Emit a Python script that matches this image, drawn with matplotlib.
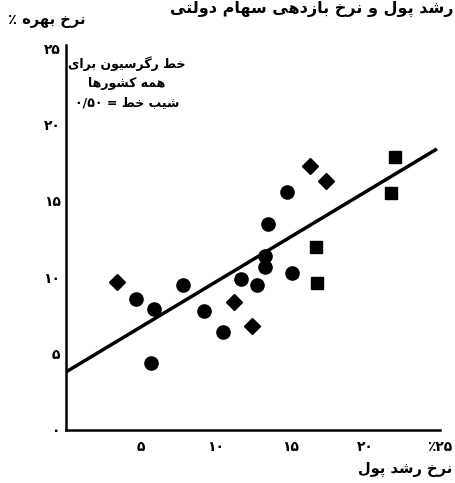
import re
import matplotlib
matplotlib.use("Agg")
import matplotlib.pyplot as plt

# ---------------- data ----------------
circle_x = [4.7, 5.9, 5.7, 7.8, 9.2, 10.5, 11.7, 12.8, 13.3, 13.3, 13.5, 14.8, 15.1]
circle_y = [8.6, 7.9, 4.4, 9.5, 7.8, 6.4, 9.9, 9.5, 10.7, 11.4, 13.5, 15.6, 10.3]
diamond_x = [3.4, 11.2, 12.4, 16.3, 17.4]
diamond_y = [9.7, 8.4, 6.8, 17.3, 16.3]
square_x = [16.7, 16.8, 21.7, 22.0]
square_y = [12.0, 9.6, 15.5, 17.9]
reg_x = [0, 24.8]
reg_y = [3.8, 18.4]

x_ticks = [5, 10, 15, 20, 25]
x_tick_labels = ["۵", "۱۰", "۱۵", "۲۰", "۲۵٪"]
y_ticks = [0, 5, 10, 15, 20, 25]
y_tick_labels = ["۰", "۵", "۱۰", "۱۵", "۲۰", "۲۵"]

title_text = "رشد پول و نرخ بازدهی سهام دولتی"
y_label = "نرخ بهره ٪"
x_label = "نرخ رشد پول"
note_lines = ["خط رگرسیون برای", "همه کشورها", "شیب خط = ۰/۵۰"]

# ------------- Arabic-script shaping (matplotlib has no bidi/shaping) -------------
FORMS = {
    'ا': ('\uFE8D', '\uFE8E', None, None),
    'ب': ('\uFE8F', '\uFE90', '\uFE91', '\uFE92'),
    'ت': ('\uFE95', '\uFE96', '\uFE97', '\uFE98'),
    'خ': ('\uFEA5', '\uFEA6', '\uFEA7', '\uFEA8'),
    'د': ('\uFEA9', '\uFEAA', None, None),
    'ر': ('\uFEAD', '\uFEAE', None, None),
    'ز': ('\uFEAF', '\uFEB0', None, None),
    'س': ('\uFEB1', '\uFEB2', '\uFEB3', '\uFEB4'),
    'ش': ('\uFEB5', '\uFEB6', '\uFEB7', '\uFEB8'),
    'ط': ('\uFEC1', '\uFEC2', '\uFEC3', '\uFEC4'),
    'ل': ('\uFEDD', '\uFEDE', '\uFEDF', '\uFEE0'),
    'م': ('\uFEE1', '\uFEE2', '\uFEE3', '\uFEE4'),
    'ن': ('\uFEE5', '\uFEE6', '\uFEE7', '\uFEE8'),
    'ه': ('\uFEE9', '\uFEEA', '\uFEEB', '\uFEEC'),
    'و': ('\uFEED', '\uFEEE', None, None),
    'پ': ('\uFB56', '\uFB57', '\uFB58', '\uFB59'),
    'ک': ('\uFB8E', '\uFB8F', '\uFB90', '\uFB91'),
    'گ': ('\uFB92', '\uFB93', '\uFB94', '\uFB95'),
    'ی': ('\uFBFC', '\uFBFD', '\uFBFE', '\uFBFF'),
}


def shape(text):
    out = []
    for i, c in enumerate(text):
        if c not in FORMS:
            out.append(c)
            continue
        prev = text[i - 1] if i > 0 else None
        nxt = text[i + 1] if i + 1 < len(text) else None
        jp = prev in FORMS and FORMS[prev][2] is not None
        jn = FORMS[c][2] is not None and nxt in FORMS
        iso, fin, ini, med = FORMS[c]
        out.append(med if (jp and jn) else fin if jp else ini if jn else iso)
    rev = ''.join(out)[::-1]
    return re.sub(r'[۰-۹0-9/]+', lambda m: m.group(0)[::-1], rev)


plt.rcParams['font.family'] = ['DejaVu Sans']

W, H = 455, 483
fig = plt.figure(figsize=(W / 100, H / 100), dpi=100)
ax = fig.add_axes([66 / W, 1 - 430 / H, (440 - 66) / W, (430 - 45) / H])

ax.plot(reg_x, reg_y, color='black', lw=2.5, solid_capstyle='butt', zorder=2)
ax.plot(circle_x, circle_y, 'o', color='black', ms=9.5, ls='none', zorder=3)
ax.plot(diamond_x, diamond_y, 'D', color='black', ms=8, ls='none', zorder=3)
ax.plot(square_x, square_y, 's', color='black', ms=8.5, ls='none', zorder=3)

ax.set_xlim(0, 25)
ax.set_ylim(0, 25.2)
for s in ('top', 'right'):
    ax.spines[s].set_visible(False)
for s in ('left', 'bottom'):
    ax.spines[s].set_linewidth(1.8)

ax.set_xticks(x_ticks)
ax.set_xticklabels([shape(t) for t in x_tick_labels], fontsize=10, fontweight='bold')
ax.set_yticks(y_ticks)
ax.set_yticklabels([shape(t) for t in y_tick_labels], fontsize=10, fontweight='bold')
ax.tick_params(axis='both', length=0)
ax.tick_params(axis='x', pad=7)
ax.tick_params(axis='y', pad=4)

fig.text(454 / W, 1 - 9 / H, shape(title_text), ha='right', va='center',
         fontsize=11.5, fontweight='bold')
fig.text(8 / W, 1 - 20 / H, shape(y_label), ha='left', va='center',
         fontsize=10.5, fontweight='bold')
fig.text(452 / W, 1 - 469 / H, shape(x_label), ha='right', va='center',
         fontsize=10.5, fontweight='bold')
for line, ypx in zip(note_lines, [64, 83, 103]):
    fig.text(127 / W, 1 - ypx / H, shape(line), ha='center', va='center',
             fontsize=9, fontweight='bold')

fig.savefig('out.png', dpi=100)
